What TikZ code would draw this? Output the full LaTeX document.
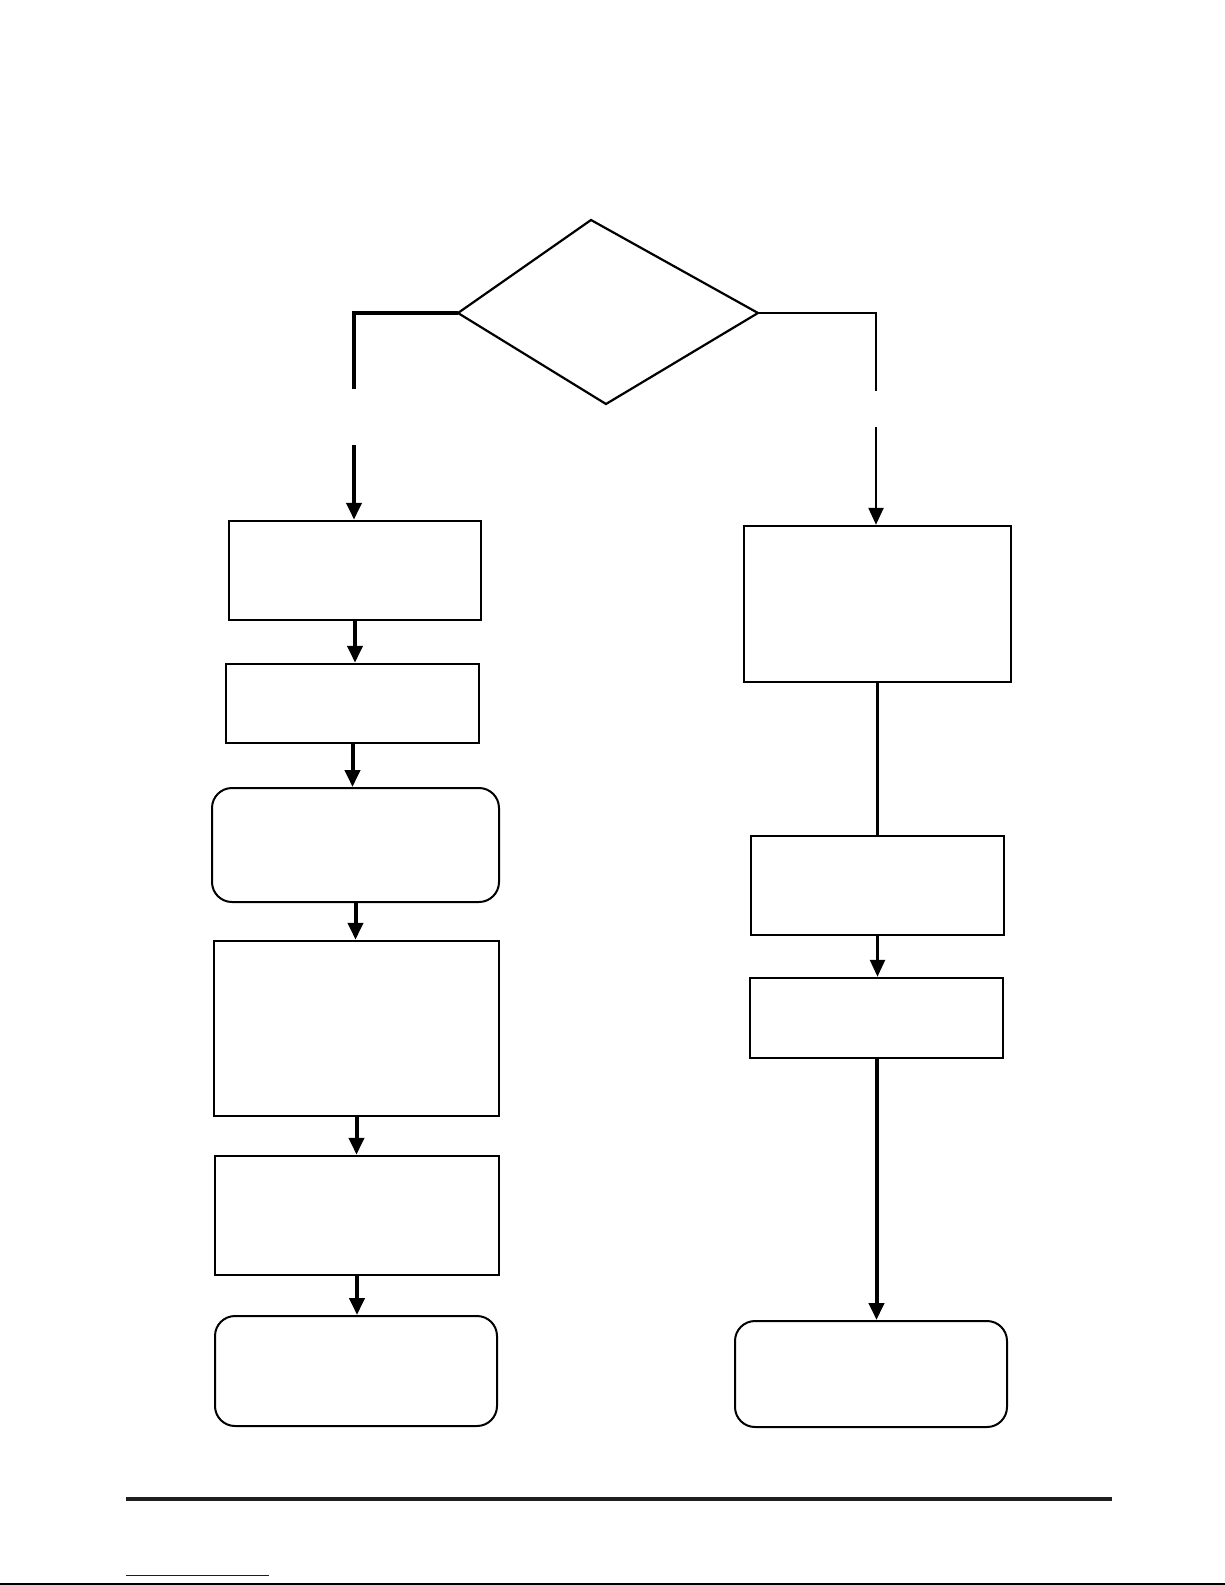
\documentclass[tikz,border=0pt]{standalone}
\usepackage{tikz}
\usetikzlibrary{arrows.meta, positioning, calc}

\begin{document}
\begin{tikzpicture}[
  x=1pt, y=-1pt,
  box/.style={rectangle, draw, line width=2.5pt, inner sep=0pt},
  roundbox/.style={box, line width=2pt, rounded corners=20pt},
  flow/.style={line width=4pt, -{Triangle[length=17pt, width=15pt]}},
  link/.style={line width=3.5pt}
]
\useasboundingbox (0,0) rectangle (1225,1585);

% Decision
\coordinate (dtop) at (591,220);
\coordinate (dleft) at (458,313);
\coordinate (dright) at (758,313);
\coordinate (dbot) at (606,404);
\draw[line width=2.2pt] (dtop) -- (dright) -- (dbot) -- (dleft) -- cycle;

% Left column
\node[box, minimum width=252pt, minimum height=99pt] (lone) at (355,570.5) {};
\node[box, minimum width=253pt, minimum height=79pt] (ltwo) at (352.5,703.5) {};
\node[roundbox, minimum width=287pt, minimum height=114pt] (lthree) at (355.5,845) {};
\node[box, minimum width=285pt, minimum height=175pt] (lfour) at (356.5,1028.5) {};
\node[box, minimum width=284pt, minimum height=119pt] (lfive) at (357,1215.5) {};
\node[roundbox, minimum width=282pt, minimum height=110pt] (lsix) at (356,1371) {};

% Right column
\node[box, minimum width=267pt, minimum height=156pt] (rone) at (877.5,604) {};
\node[box, minimum width=253pt, minimum height=99pt] (rtwo) at (877.5,885.5) {};
\node[box, minimum width=253pt, minimum height=80pt] (rthree) at (876.5,1018) {};
\node[roundbox, minimum width=272pt, minimum height=106pt] (rfour) at (871,1374) {};

% Branches (broken lines)
\coordinate (lcorner) at (354,313);
\coordinate (lbreak) at (354,389);
\coordinate (lresume) at (354,445);
\coordinate (rcorner) at (876,313);
\coordinate (rbreak) at (876,391);
\coordinate (rresume) at (876,427);

\draw[link] (dleft) -- (lcorner) -- (lbreak);
\draw[flow] (lresume) -- (lresume |- lone.north);
\draw[line width=2.2pt] (dright) -- (rcorner) -- (rbreak);
\draw[flow, line width=2.5pt] (rresume) -- (rresume |- rone.north);

% Arrows
\draw[flow] (lone.south) -- (lone.south |- ltwo.north);
\draw[flow] (ltwo.south) -- (ltwo.south |- lthree.north);
\draw[flow] (lthree.south) -- (lthree.south |- lfour.north);
\draw[flow] (lfour.south) -- (lfour.south |- lfive.north);
\draw[flow] (lfive.south) -- (lfive.south |- lsix.north);

\draw[line width=2.5pt] (rone.south) -- (rone.south |- rtwo.north);
\draw[flow, line width=2.5pt] (rtwo.south) -- (rtwo.south |- rthree.north);
\draw[flow] (rthree.south) -- (rthree.south |- rfour.north);

% Footer
\coordinate (fleft) at (126,1499);
\coordinate (fright) at (1112,1499);
\draw[line width=4pt, black!88] (fleft) -- (fright);
\coordinate (uleft) at (126,1575);
\coordinate (uright) at (269,1575);
\draw[line width=1pt, blue] (uleft) -- (uright);
\coordinate (eleft) at (0,1584);
\coordinate (eright) at (1225,1584);
\draw[line width=1.5pt] (eleft) -- (eright);

\end{tikzpicture}
\end{document}
